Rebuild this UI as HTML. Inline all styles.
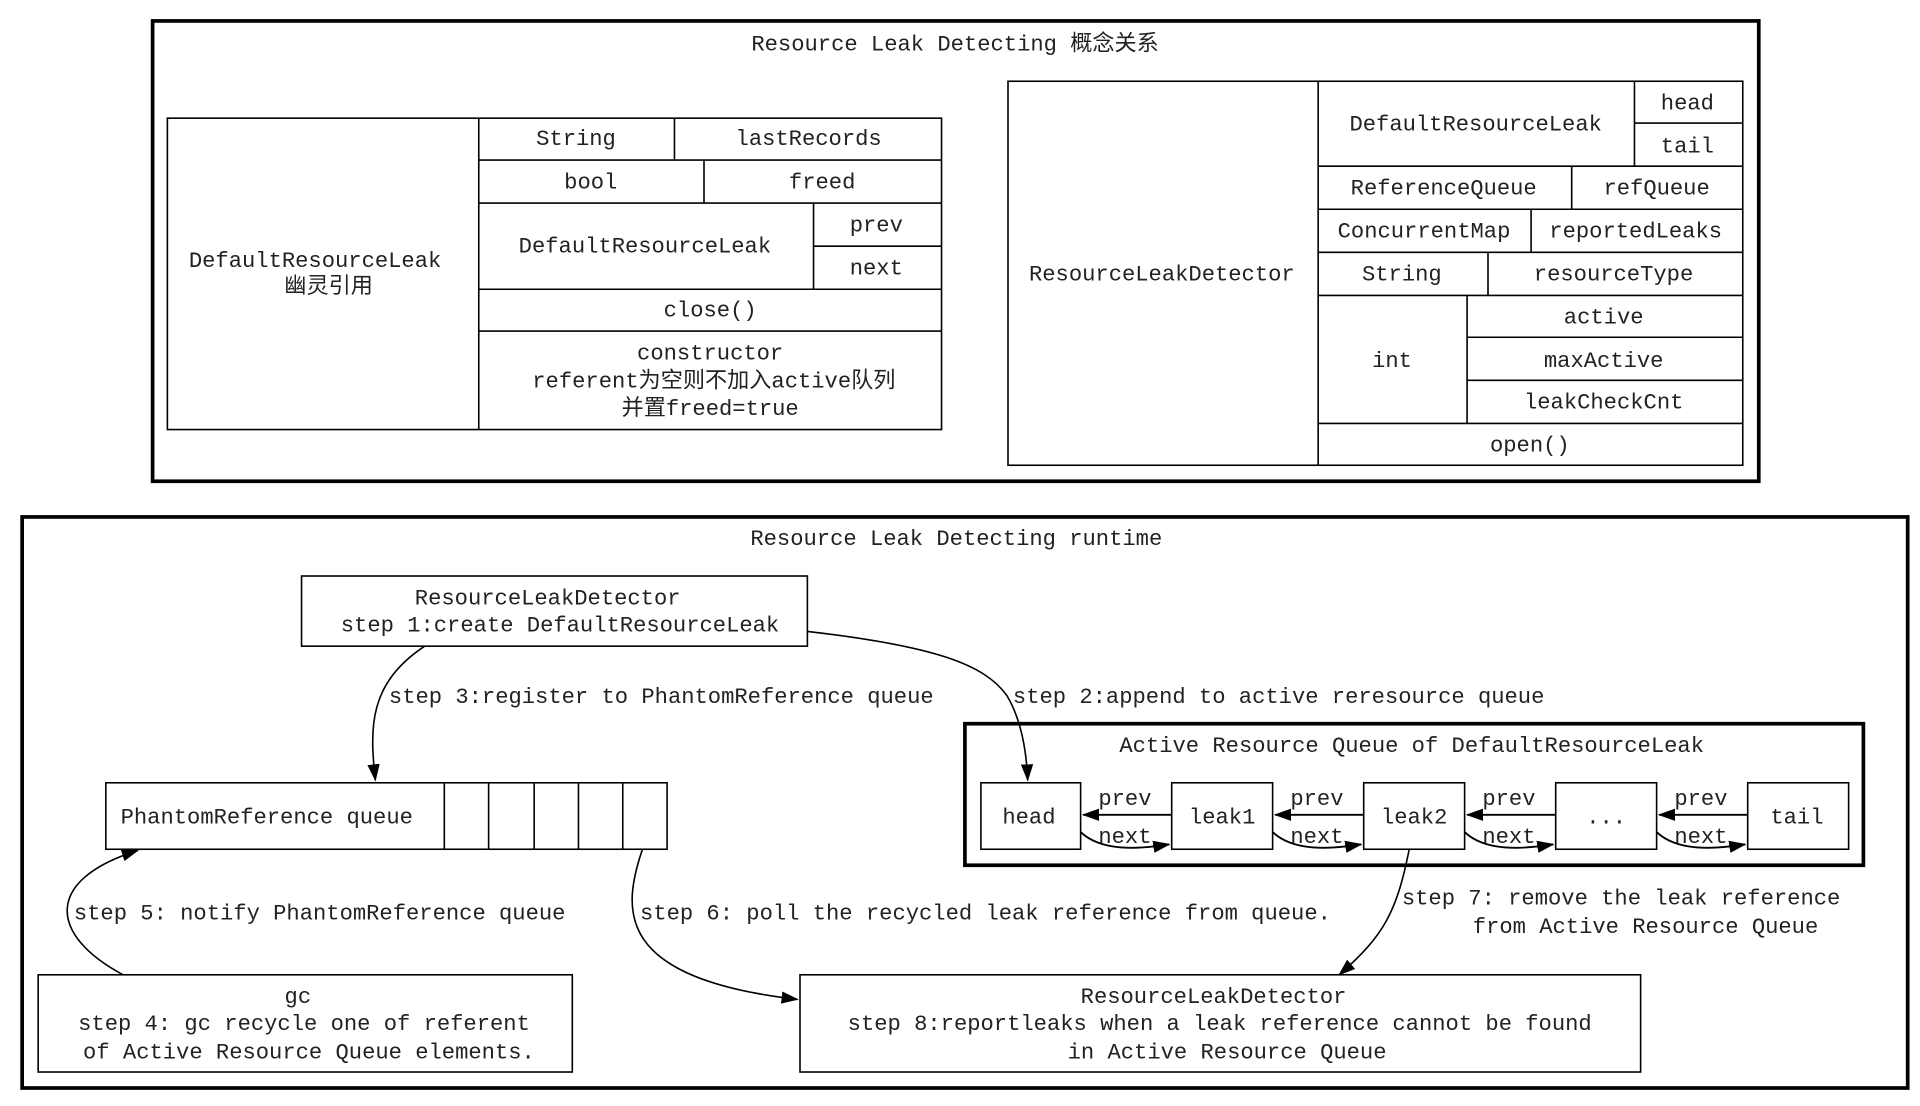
<!DOCTYPE html>
<html><head><meta charset="utf-8"><style>
html,body{margin:0;padding:0;background:#fff;}
svg{display:block}
text{font-family:"Liberation Mono","Noto Sans CJK SC",monospace;font-size:18px;fill:#222;text-anchor:middle;}
.l{text-anchor:start}
</style></head><body>
<svg width="1920" height="1106" viewBox="0 0 1560 898.6" xmlns="http://www.w3.org/2000/svg">
<defs><marker id="a" markerWidth="10" markerHeight="8" refX="9" refY="4" orient="auto" markerUnits="userSpaceOnUse"><path d="M0,0 L10,4 L0,8 z" fill="#000"/></marker>
<marker id="b" markerWidth="14" markerHeight="10" refX="13" refY="5" orient="auto" markerUnits="userSpaceOnUse"><path d="M0,0 L14,5 L0,10 z" fill="#000"/></marker></defs>
<g fill="none" stroke="#000">
<rect x="124" y="17" width="1305" height="374" stroke-width="3"/>
<g stroke-width="1.3">
<rect x="136" y="96" width="629" height="253"/>
<path d="M389,96V349 M389,130H765 M389,165H765 M389,235H765 M389,269H765 M548,96V130 M572,130V165 M661,165V235 M661,200H765"/>
<rect x="819" y="66" width="597" height="312"/>
<path d="M1071,66V378 M1071,135H1416 M1071,170H1416 M1071,205H1416 M1071,240H1416 M1071,344H1416 M1328,66V135 M1328,100H1416 M1277,135V170 M1244,170V205 M1209,205V240 M1192,240V344 M1192,274H1416 M1192,309H1416"/>
</g>
<rect x="18" y="420" width="1532" height="464" stroke-width="3"/>
<rect x="784" y="588" width="730" height="115" stroke-width="3"/>
<g stroke-width="1.3">
<rect x="245" y="468" width="411" height="57"/>
<rect x="86" y="636" width="456" height="54"/>
<path d="M361,636V690 M397,636V690 M434,636V690 M470,636V690 M506,636V690"/>
<rect x="797" y="636" width="81" height="54"/>
<rect x="952" y="636" width="82" height="54"/>
<rect x="1108" y="636" width="82" height="54"/>
<rect x="1264" y="636" width="82" height="54"/>
<rect x="1420" y="636" width="82" height="54"/>
<rect x="31" y="792" width="434" height="79"/>
<rect x="650" y="792" width="683" height="79"/>
</g>
<g stroke-width="1.5">
<path d="M952,662H880" marker-end="url(#b)"/><path d="M1108,662H1036" marker-end="url(#b)"/><path d="M1264,662H1192" marker-end="url(#b)"/><path d="M1420,662H1348" marker-end="url(#b)"/>
<path d="M878,676C895,692 925,690 950,686" marker-end="url(#b)"/>
<path d="M1034,676C1051,692 1081,690 1106,686" marker-end="url(#b)"/>
<path d="M1190,676C1207,692 1237,690 1262,686" marker-end="url(#b)"/>
<path d="M1346,676C1363,692 1393,690 1418,686" marker-end="url(#b)"/>
</g>
<g stroke-width="1.3">
<path d="M345,525C300,555 300,590 305,634" marker-end="url(#b)"/>
<path d="M656,513C760,525 800,540 818,565C830,585 834,610 835,634" marker-end="url(#b)"/>
<path d="M100,792C40,760 35,715 112,691" marker-end="url(#b)"/>
<path d="M522,690C505,740 500,795 648,812" marker-end="url(#b)"/>
<path d="M1145,690C1135,740 1125,760 1088,792" marker-end="url(#b)"/>
</g>
</g>
<text x="776" y="41">Resource Leak Detecting 概念关系</text>
<text x="256" y="217">DefaultResourceLeak</text><text x="267" y="238">幽灵引用</text>
<text x="468" y="118">String</text><text x="657" y="118">lastRecords</text>
<text x="480" y="153">bool</text><text x="668" y="153">freed</text>
<text x="524" y="205">DefaultResourceLeak</text><text x="712" y="188">prev</text><text x="712" y="223">next</text>
<text x="577" y="257">close()</text>
<text x="577" y="292">constructor</text><text x="580" y="315">referent为空则不加入active队列</text><text x="577" y="337">并置freed=true</text>
<text x="944" y="228">ResourceLeakDetector</text>
<text x="1199" y="106">DefaultResourceLeak</text><text x="1371" y="89">head</text><text x="1371" y="124">tail</text>
<text x="1173" y="158">ReferenceQueue</text><text x="1346" y="158">refQueue</text>
<text x="1157" y="193">ConcurrentMap</text><text x="1329" y="193">reportedLeaks</text>
<text x="1139" y="228">String</text><text x="1311" y="228">resourceType</text>
<text x="1131" y="298">int</text><text x="1303" y="263">active</text><text x="1303" y="298">maxActive</text><text x="1303" y="332">leakCheckCnt</text>
<text x="1243" y="367">open()</text>
<text x="777" y="443">Resource Leak Detecting runtime</text>
<text x="445" y="491">ResourceLeakDetector</text><text x="455" y="513">step 1:create DefaultResourceLeak</text>
<text class="l" x="316" y="571">step 3:register to PhantomReference  queue</text>
<text class="l" x="823" y="571">step 2:append to active reresource queue</text>
<text x="1147" y="611">Active Resource Queue of DefaultResourceLeak</text>
<text x="836" y="669">head</text><text x="993" y="669">leak1</text><text x="1149" y="669">leak2</text><text x="1305" y="669">...</text><text x="1460" y="669">tail</text>
<text x="914" y="654">prev</text><text x="1070" y="654">prev</text><text x="1226" y="654">prev</text><text x="1382" y="654">prev</text>
<text x="914" y="685">next</text><text x="1070" y="685">next</text><text x="1226" y="685">next</text><text x="1382" y="685">next</text>
<text class="l" x="98" y="669">PhantomReference queue</text>
<text class="l" x="60" y="747">step 5: notify PhantomReference  queue</text>
<text class="l" x="520" y="747">step 6: poll the recycled leak reference from queue.</text>
<text class="l" x="1139" y="735">step 7: remove the leak reference</text>
<text x="1337" y="758">from Active Resource Queue</text>
<text x="242" y="815">gc</text><text x="247" y="837">step 4: gc recycle one of referent</text><text x="251" y="860">of Active Resource Queue elements.</text>
<text x="986" y="815">ResourceLeakDetector</text><text x="991" y="837">step 8:reportleaks when a leak reference cannot be found</text><text x="997" y="860">in Active Resource Queue</text>
</svg>
</body></html>
